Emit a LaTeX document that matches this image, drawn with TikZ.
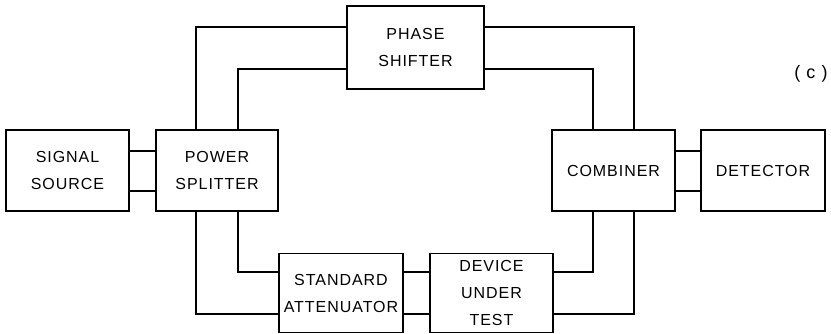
\documentclass[tikz,border=0pt]{standalone}
\usepackage{fontspec}
\newfontfamily\lab[LetterSpace=6]{Liberation Sans}
\begin{document}
\begin{tikzpicture}[x=1pt,y=-1pt,
  blk/.style={draw,line width=1.4pt,minimum height=81pt,inner sep=0pt,align=center,
    font=\lab\fontsize{16}{27}\selectfont},
  wire/.style={line width=1.4pt}]
\useasboundingbox (0,0) rectangle (831,334);
\node[blk,minimum width=123pt] (src) at (67.5,170.5) {SIGNAL\\SOURCE};
\node[blk,minimum width=122pt] (split) at (217,170.5) {POWER\\SPLITTER};
\node[blk,minimum width=137pt,minimum height=83pt] (phase) at (415.5,47.5) {PHASE\\SHIFTER};
\node[blk,minimum width=123pt] (comb) at (613.5,170.5) {COMBINER};
\node[blk,minimum width=124pt] (det) at (763,170.5) {DETECTOR};
\node[blk,minimum width=124pt,minimum height=79pt] (std) at (341,293) {STANDARD\\ATTENUATOR};
\node[blk,minimum width=123pt,minimum height=79pt] (dut) at (491.5,293) {DEVICE\\UNDER\\TEST};
\node[font=\lab\fontsize{18}{20}\selectfont] (lbl) at (811,74) {( c )};
% source - splitter
\draw[wire] ([yshift=19.5pt]src.east) -- ([yshift=19.5pt]src.east -| split.west);
\draw[wire] ([yshift=-20.5pt]src.east) -- ([yshift=-20.5pt]src.east -| split.west);
% combiner - detector
\draw[wire] ([yshift=19.5pt]comb.east) -- ([yshift=19.5pt]comb.east -| det.west);
\draw[wire] ([yshift=-20.5pt]comb.east) -- ([yshift=-20.5pt]comb.east -| det.west);
% top paths
\draw[wire] ([xshift=-21pt]split.north) |- ([yshift=20.5pt]phase.west);
\draw[wire] ([xshift=21pt]split.north) |- ([yshift=-21.5pt]phase.west);
\draw[wire] ([yshift=20.5pt]phase.east) -| ([xshift=20.5pt]comb.north);
\draw[wire] ([yshift=-21.5pt]phase.east) -| ([xshift=-20.5pt]comb.north);
% bottom paths
\draw[wire] ([xshift=21pt]split.south) |- ([yshift=21pt]std.west);
\draw[wire] ([xshift=-21pt]split.south) |- ([yshift=-21pt]std.west);
\draw[wire] ([yshift=21pt]std.east) -- ([yshift=21pt]std.east -| dut.west);
\draw[wire] ([yshift=-21pt]std.east) -- ([yshift=-21pt]std.east -| dut.west);
\draw[wire] ([yshift=21pt]dut.east) -| ([xshift=-20.5pt]comb.south);
\draw[wire] ([yshift=-21pt]dut.east) -| ([xshift=20.5pt]comb.south);
\end{tikzpicture}
\end{document}
